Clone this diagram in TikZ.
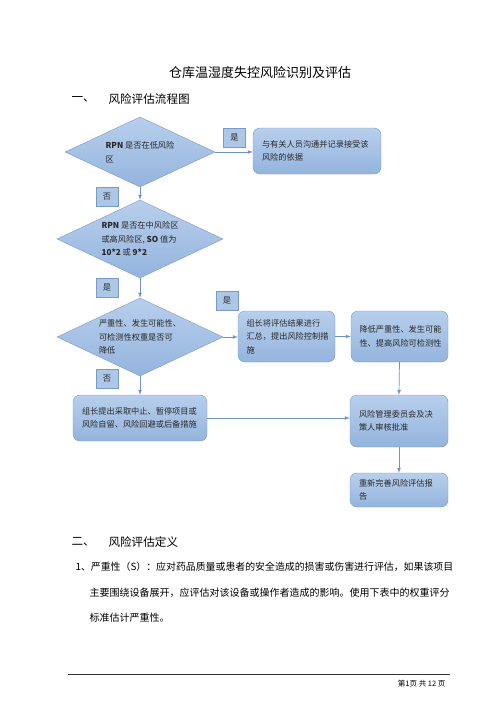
\documentclass[tikz,border=0pt]{standalone}
\usepackage{fontspec}
\setmainfont{Noto Sans CJK SC}
\usetikzlibrary{arrows,shapes,positioning,calc}
\definecolor{boxtop}{RGB}{184,207,236}
\definecolor{boxbot}{RGB}{148,180,221}
\definecolor{boxline}{RGB}{122,154,200}
\definecolor{linkblue}{RGB}{112,146,196}
\definecolor{inkgray}{RGB}{40,40,40}

\begin{document}
\begin{tikzpicture}[x=1pt,y=-1pt,
    procbox/.style={draw=boxline,top color=boxtop,bottom color=boxbot,rounded corners=7pt,
        inner sep=0pt,align=left,text=inkgray,font=\fontsize{8.2}{13.5}\selectfont},
    decision/.style={diamond,aspect=2.15,draw=boxline,top color=boxtop,bottom color=boxbot,
        inner sep=0pt,align=left,text=inkgray,font=\fontsize{8.2}{13.5}\selectfont},
    tagbox/.style={draw=boxline,fill=boxtop!70!boxbot,minimum width=22pt,minimum height=19pt,
        inner sep=0pt,text=inkgray,font=\fontsize{8.2}{10}\selectfont},
    link/.style={draw=linkblue,->,>=latex,line width=0.7pt}]

    \fill[white] (0,0) rectangle (496,702);
    \useasboundingbox (0,0) rectangle (496,702);

    % headings
    \node[font=\fontsize{13}{15}\selectfont] (title) at (260,73) {仓库温湿度失控风险识别及评估};
    \node[anchor=west,font=\fontsize{11.6}{14}\selectfont] (secone) at (68,99) {一、};
    \node[anchor=west,font=\fontsize{11.6}{14}\selectfont] (seconetitle) at (105,99) {风险评估流程图};

    % decisions
    \node[decision,minimum width=150pt,minimum height=70pt] (low) at (140,152)
        {\textbf{RPN} 是否在低风险\\区};
    \node[decision,minimum width=166pt,minimum height=78pt] (mid) at (140,239)
        {\textbf{RPN} 是否在中风险区\\或高风险区, \textbf{SO} 值为\\\textbf{10*2} 或 \textbf{9*2}};
    \node[decision,minimum width=166pt,minimum height=78pt] (weight) at (140,337)
        {严重性、发生可能性、\\可检测性权重是否可\\降低};

    % actions
    \node[procbox,text width=110pt,minimum width=128pt,minimum height=46pt] (accept) at (317,151)
        {与有关人员沟通并记录接受该\\风险的依据};
    \node[procbox,text width=80pt,minimum width=97pt,minimum height=51pt] (summary) at (286.5,336.5)
        {组长将评估结果进行\\汇总，提出风险控制措\\施};
    \node[procbox,text width=80pt,minimum width=97pt,minimum height=51pt] (reduce) at (399.5,336.5)
        {降低严重性、发生可能\\性、提高风险可检测性};
    \node[procbox,text width=116pt,minimum width=134pt,minimum height=46pt] (stop) at (140,418)
        {组长提出采取中止、暂停项目或\\风险自留、风险回避或后备措施};
    \node[procbox,text width=80pt,minimum width=98pt,minimum height=52pt] (approve) at (399,421)
        {风险管理委员会及决\\策人审核批准};
    \node[procbox,text width=80pt,minimum width=98pt,minimum height=34pt] (report) at (399,490)
        {重新完善风险评估报\\告};

    % yes / no tags
    \node[tagbox] (yesone) at (234.5,138) {是};
    \node[tagbox] (noone) at (107,196.5) {否};
    \node[tagbox] (yestwo) at (107,287.5) {是};
    \node[tagbox] (yesthree) at (227,301) {是};
    \node[tagbox] (nothree) at (107,378.5) {否};

    % connectors
    \draw[link] (low.east) -- (low.east -| accept.west);
    \draw[link] (low.south) -- (mid.north);
    \draw[link] (mid.south) -- (weight.north);
    \draw[link] (weight.east) -- (weight.east -| summary.west);
    \draw[link] (summary.east) -- (reduce.west);
    \draw[link] (weight.south) -- (stop.north);
    \draw[link] (reduce.south) -- (approve.north);
    \draw[link] (stop.east) -- (stop.east -| approve.west);
    \draw[link] (approve.south) -- (report.north);

    % definitions
    \node[anchor=west,font=\fontsize{11.6}{14}\selectfont] (sectwo) at (68,542) {二、};
    \node[anchor=west,font=\fontsize{11.6}{14}\selectfont] (sectwotitle) at (105,542) {风险评估定义};
    \node[anchor=west,font=\fontsize{9.9}{12}\selectfont] (lineone) at (72,567)
        {1、严重性（S）：应对药品质量或患者的安全造成的损害或伤害进行评估，如果该项目};
    \node[anchor=west,font=\fontsize{10}{12}\selectfont] (linetwo) at (86,593)
        {主要围绕设备展开，应评估对该设备或操作者造成的影响。使用下表中的权重评分};
    \node[anchor=west,font=\fontsize{10}{12}\selectfont] (linethree) at (86,618)
        {标准估计严重性。};

    % footer
    \draw[line width=0.6pt,black!80] (68,674) -- (450,674);
    \node[anchor=east,font=\fontsize{7.5}{9}\selectfont] (pageno) at (449,684) {第1页\ 共 12 页};
\end{tikzpicture}
\end{document}
